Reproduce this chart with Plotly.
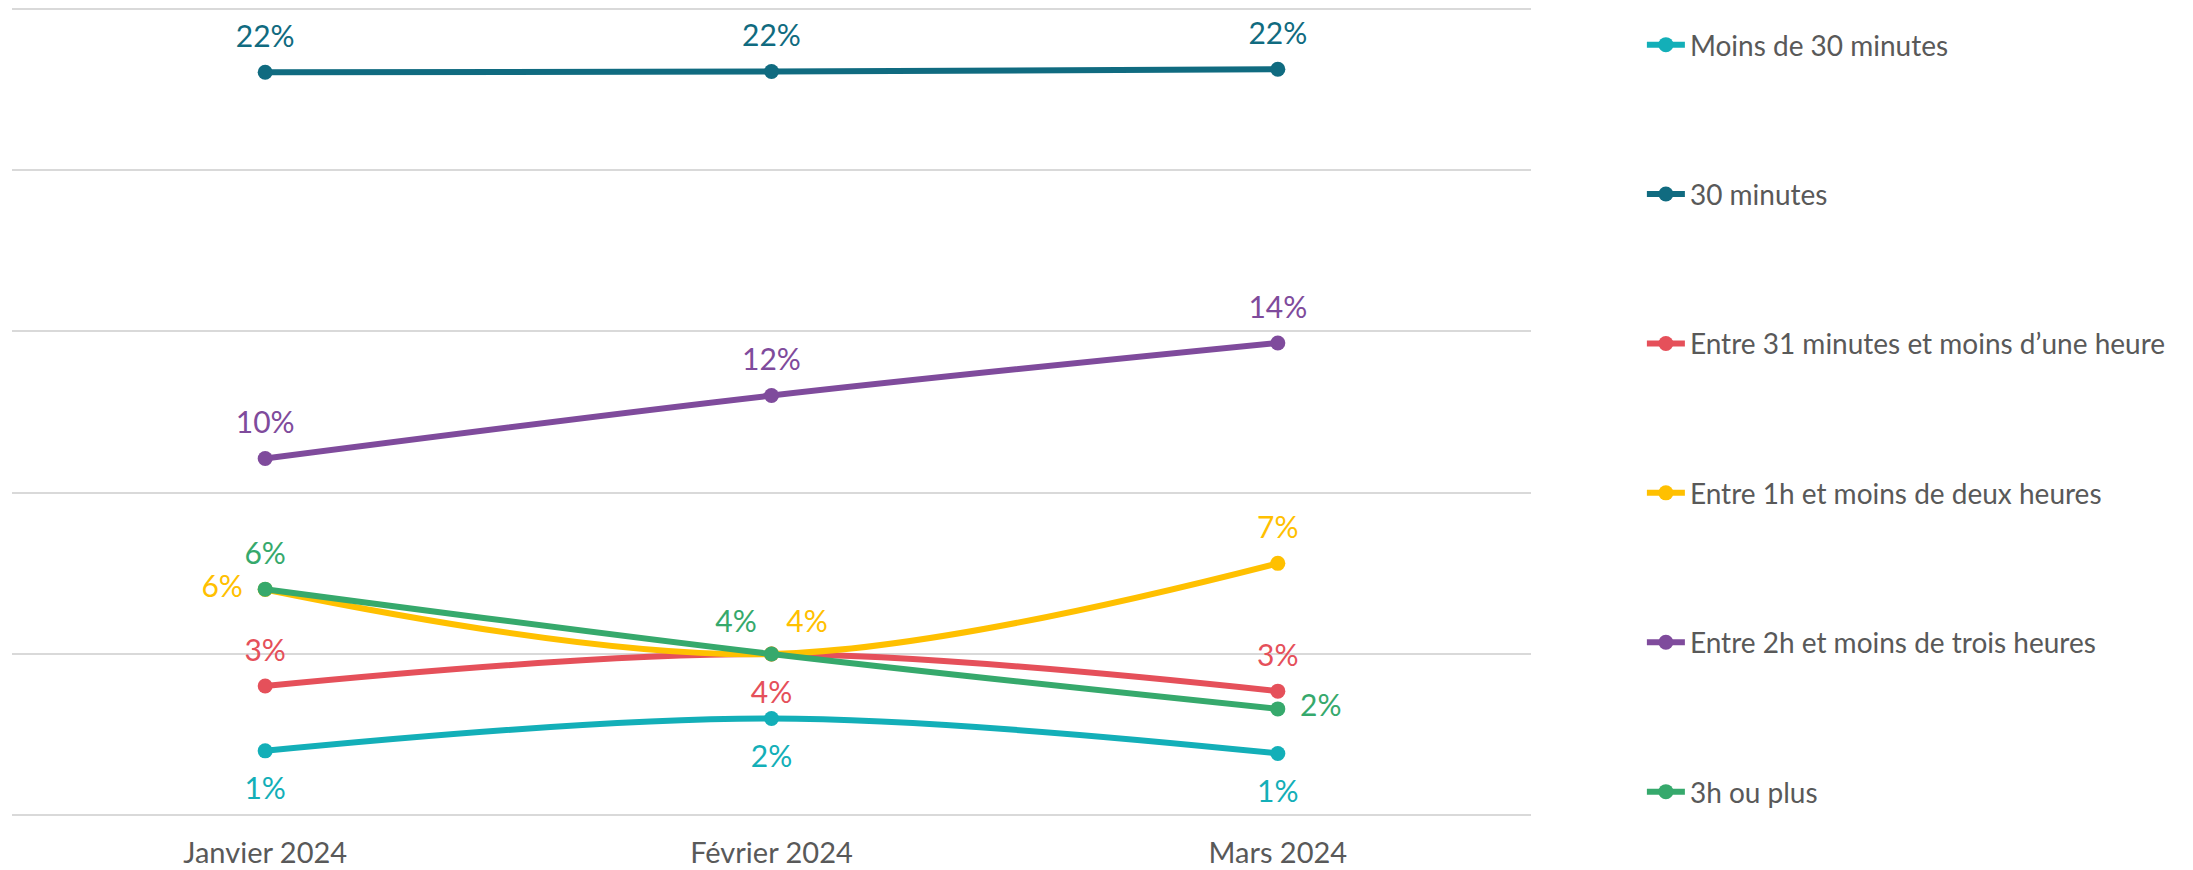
import plotly.graph_objects as go

months = ["Janvier 2024", "Février 2024", "Mars 2024"]

series_names = [
    "Moins de 30 minutes",
    "30 minutes",
    "Entre 31 minutes et moins d\u2019une heure",
    "Entre 1h et moins de deux heures",
    "Entre 2h et moins de trois heures",
    "3h ou plus",
]

moins_30 = [1.0, 2.0, 0.92]
min_30 = [22.03, 22.05, 22.12]
entre_31_1h = [3.01, 4.0, 2.85]
entre_1h_2h = [6.0, 4.0, 6.81]
entre_2h_3h = [10.06, 12.01, 13.64]
plus_3h = [6.01, 4.0, 2.30]

values = [moins_30, min_30, entre_31_1h, entre_1h_2h, entre_2h_3h, plus_3h]
colors = ["#13AFB8", "#106B80", "#E5505A", "#FFC000", "#7F4B9C", "#36A96C"]
text_positions = [
    ["bottom center", "bottom center", "bottom center"],
    ["top center", "top center", "top center"],
    ["top center", "bottom center", "top center"],
    ["middle left", "top right", "top center"],
    ["top center", "top center", "top center"],
    ["top center", "top left", "middle right"],
]

# label offset (via an invisible marker) per label placement
offset_size = {
    "top center": 27, "bottom center": 40, "middle left": 34,
    "middle right": 34, "top left": 22, "top right": 22,
}

FONT = "Lato, 'Open Sans', sans-serif"

fig = go.Figure()
for name, vals, col in zip(series_names, values, colors):
    fig.add_trace(go.Scatter(
        x=months, y=vals, name=name, legendgroup=name,
        mode="lines+markers",
        line=dict(color=col, width=6, shape="spline", smoothing=1.0),
        marker=dict(color=col, size=15),
        cliponaxis=False,
    ))

for name, vals, col, tp in zip(series_names, values, colors, text_positions):
    fig.add_trace(go.Scatter(
        x=months, y=vals, mode="markers+text", showlegend=False,
        marker=dict(color=col, size=[offset_size[p] for p in tp], opacity=0),
        text=[f"{round(v):d}%" for v in vals],
        textposition=tp,
        textfont=dict(color=col, size=30, family=FONT),
        hoverinfo="skip", cliponaxis=False,
    ))

fig.update_layout(
    width=2193, height=870,
    paper_bgcolor="white", plot_bgcolor="white",
    margin=dict(l=12, r=662, t=7.4, b=53.4),
    font=dict(family=FONT, color="#595959", size=28),
    showlegend=True,
    legend=dict(
        x=1.073, xanchor="left", y=0.984, yanchor="top",
        tracegroupgap=110, traceorder="grouped", itemwidth=38,
        maxheight=860,
        font=dict(size=28, color="#595959", family=FONT),
        bgcolor="rgba(0,0,0,0)",
    ),
    xaxis=dict(
        type="category", range=[-0.5, 2.5], showgrid=False, zeroline=False,
        showline=False, ticks="", ticklabelstandoff=16, automargin=False,
        tickfont=dict(size=29, color="#595959", family=FONT),
    ),
    yaxis=dict(
        range=[-1.05, 24.05], tick0=-1, dtick=5, showticklabels=False,
        showgrid=True, gridcolor="#D9D9D9", gridwidth=2, zeroline=False,
        showline=False, automargin=False,
    ),
)

fig.write_html("out.html", config={"displayModeBar": False},
               post_script="document.body.style.margin='0';")
